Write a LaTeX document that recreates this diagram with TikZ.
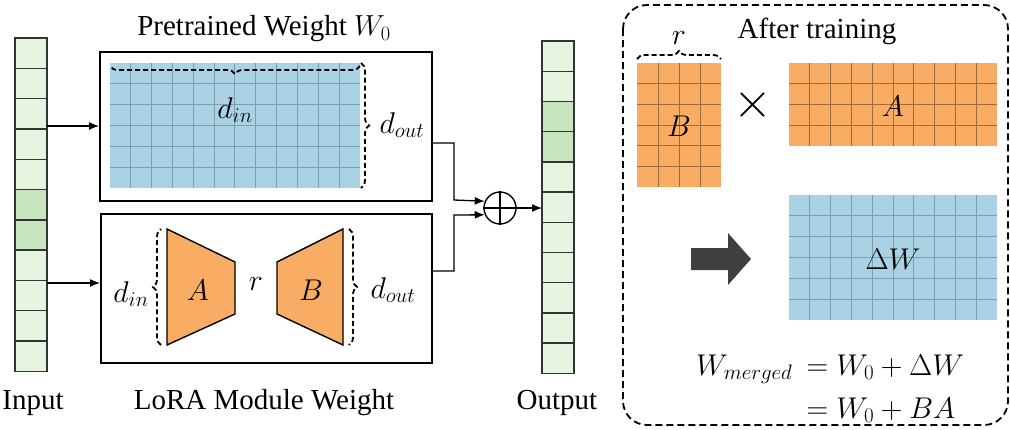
\RequirePackage{fix-cm}
\documentclass[tikz,border=0pt]{standalone}
\usepackage{fontspec}
\setmainfont{Liberation Serif}
\usetikzlibrary{decorations.pathreplacing,arrows.meta}
\definecolor{gl}{HTML}{E6F4E0}
\definecolor{gd}{HTML}{C6E4BE}
\definecolor{bl}{HTML}{A9D3E4}
\definecolor{bll}{HTML}{7E9DB0}
\definecolor{or}{HTML}{F8AC64}
\definecolor{orl}{HTML}{9E6A3C}
\tikzset{
 cell/.style={draw=black!80,line width=1.4pt},
 box/.style={draw,line width=2.2pt},
 arr/.style={-{Latex[length=10pt,width=8pt]},line width=1.3pt},
 br/.style={decorate,decoration={brace,amplitude=8pt},dash pattern=on 5pt off 3pt,line width=1.8pt},
 lbl/.style={font=\fontsize{29}{32}\selectfont},
 ml/.style={font=\fontsize{30}{34}\selectfont},
}
\begin{document}
\begin{tikzpicture}[x=1pt,y=-1pt]
\useasboundingbox (0,0) rectangle (1010,429);
% input column
\foreach \i in {0,...,10}{
 \pgfmathsetmacro\ya{38+\i*30.3}\pgfmathsetmacro\yb{38+(\i+1)*30.3}
 \ifnum\i=5 \def\c{gd}\else\ifnum\i=6 \def\c{gd}\else\def\c{gl}\fi\fi
 \draw[cell,fill=\c] (15,\ya) rectangle (47,\yb);}
\coordinate (inA) at (47,126); \coordinate (inB) at (47,283);
% output column
\foreach \i in {0,...,10}{
 \pgfmathsetmacro\ya{41+\i*30.2}\pgfmathsetmacro\yb{41+(\i+1)*30.2}
 \ifnum\i=2 \def\c{gd}\else\ifnum\i=3 \def\c{gd}\else\def\c{gl}\fi\fi
 \draw[cell,fill=\c] (542,\ya) rectangle (574,\yb);}
\coordinate (outin) at (542,208);
% top box
\node[box,minimum width=332,minimum height=149,inner sep=0,anchor=north west] (top) at (99,51) {};
\fill[bl] (110,63) rectangle (360,188);
\draw[bll,line width=1pt] foreach \k in {1,...,11}{(110+\k*20.83,63) -- (110+\k*20.83,188)}
 foreach \k in {1,...,5}{(110,63+\k*20.83) -- (360,63+\k*20.83)};
\draw[br] (360,66) -- (110,66);
\node[ml] (din1) at (235,110) {$d_{in}$};
\draw[br] (361,63) -- (361,188);
\node[ml] (dout1) at (402,125) {$d_{out}$};
\node[lbl] (t1) at (264,29) {Pretrained Weight $W_0$};
% bottom box
\node[box,minimum width=331,minimum height=149,inner sep=0,anchor=north west] (bot) at (100,213) {};
\draw[fill=or,line width=1.4pt] (167,229) -- (235,262) -- (235,314) -- (167,345) -- cycle;
\draw[fill=or,line width=1.4pt] (343,229) -- (277,262) -- (277,314) -- (343,345) -- cycle;
\node[ml] (a1) at (198,290) {$A$};
\node[ml] (b1) at (311,290) {$B$};
\node[ml] (r1) at (256,284) {$r$};
\draw[br] (161,345) -- (161,229);
\draw[br] (349,229) -- (349,345);
\node[ml] (din2) at (131,294) {$d_{in}$};
\node[ml] (dout2) at (393,290) {$d_{out}$};
\node[lbl] (t2) at (264,403) {LoRA Module Weight};
\node[lbl] (t3) at (33,403) {Input};
\node[lbl] (t4) at (557,403) {Output};
% plus
\node[draw,circle,line width=1.4pt,minimum size=32,inner sep=0] (plus) at (500,208) {};
\draw[line width=1.6pt] (plus.north) -- (plus.south) (plus.west) -- (plus.east);
% connectors
\draw[arr] (inA) -- (inA -| top.west);
\draw[arr] (inB) -- (inB -| bot.west);
\draw[arr] (top.east |- 0,143) -- (454,143) -- (454,200) -- (plus.180-24);
\draw[arr] (bot.east |- 0,271) -- (454,271) -- (454,215) -- (plus.180+24);
\draw[arr] (plus.east) -- (outin);
% right panel
\draw[dash pattern=on 7pt off 4pt,line width=1.8pt,rounded corners=24] (623,5) rectangle (1008,425);
\node[lbl] (t5) at (817,31) {After training};
\fill[or] (637,63) rectangle (721,187);
\draw[orl,line width=1pt] foreach \k in {1,2,3}{(637+\k*21,63) -- (637+\k*21,187)}
 foreach \k in {1,...,5}{(637,63+\k*20.67) -- (721,63+\k*20.67)};
\draw[br] (637,59) -- (721,59);
\node[ml] (r2) at (679,38) {$r$};
\node[ml] (b2) at (679,126) {$B$};
\node[font=\fontsize{50}{50}\selectfont] (x) at (753,105) {$\times$};
\fill[or] (789,63) rectangle (997,146);
\draw[orl,line width=1pt] foreach \k in {1,...,9}{(789+\k*20.8,63) -- (789+\k*20.8,146)}
 foreach \k in {1,2,3}{(789,63+\k*20.75) -- (997,63+\k*20.75)};
\node[ml] (a2) at (893,106) {$A$};
\fill[bl] (789,195) rectangle (997,320);
\draw[bll,line width=1pt] foreach \k in {1,...,9}{(789+\k*20.8,195) -- (789+\k*20.8,320)}
 foreach \k in {1,...,5}{(789,195+\k*20.83) -- (997,195+\k*20.83)};
\node[ml] (dw) at (893,259) {$\Delta W$};
\fill[black!75] (691,248) -- (728,248) -- (728,233) -- (751,259) -- (728,285) -- (728,270) -- (691,270) -- cycle;
\node[ml,anchor=base east] (wm) at (796,375) {$W_{merged}$};
\node[ml,anchor=base west] (e1) at (803,375) {$= W_0 + \Delta W$};
\node[ml,anchor=base west] (e2) at (803,418) {$= W_0 + BA$};
\end{tikzpicture}
\end{document}
